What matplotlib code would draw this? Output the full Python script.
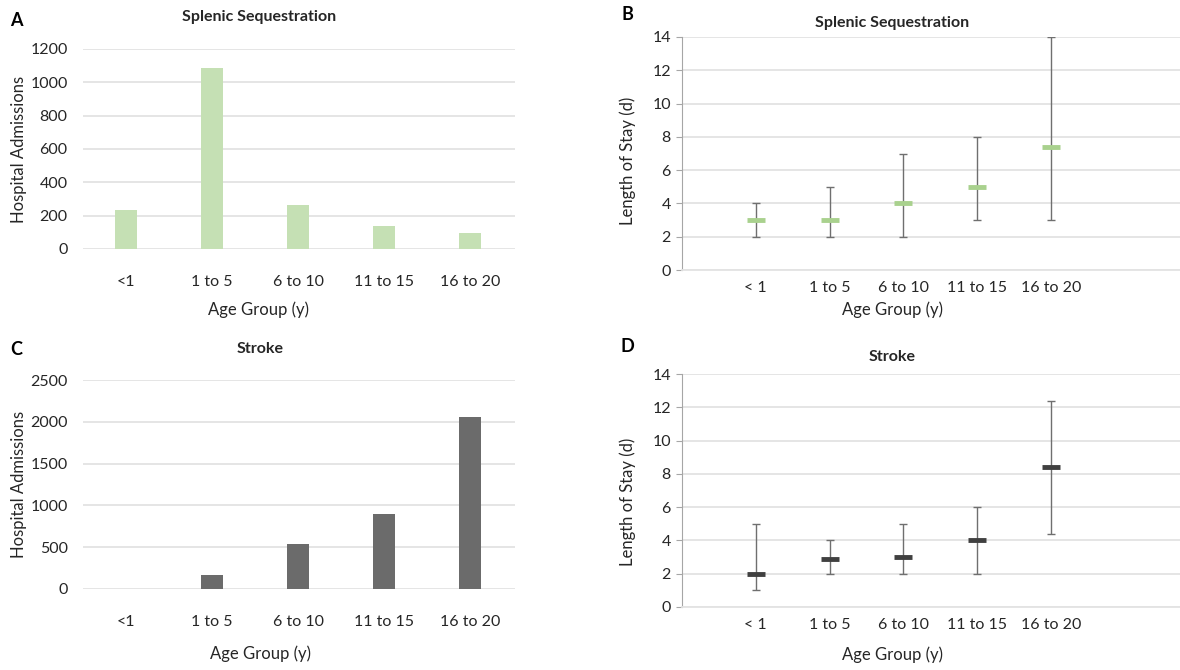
import matplotlib as mpl
import matplotlib.pyplot as plt
import numpy as np

mpl.use('Agg')
plt.rcParams['font.family'] = ['Lato', 'DejaVu Sans']

# data
age_groups_bar = ['<1', '1 to 5', '6 to 10', '11 to 15', '16 to 20']
age_groups_los = ['< 1', '1 to 5', '6 to 10', '11 to 15', '16 to 20']

splenic_admissions = [236, 1086, 264, 138, 98]
stroke_admissions = [0, 167, 535, 893, 2057]

splenic_los_median = [3, 3, 4, 5, 7.4]
splenic_los_low = [2, 2, 2, 3, 3]
splenic_los_high = [4, 5, 7, 8, 14]

stroke_los_median = [2, 2.9, 3, 4, 8.4]
stroke_los_low = [1, 2, 2, 2, 4.4]
stroke_los_high = [5, 4, 5, 6, 12.4]

W, H = 1180, 670
GRID = '#e3e3e3'
TEXT = '#262626'


def px_axes(fig, x0, y0, x1, y1):
    # pixel box (top-left origin) -> figure axes
    return fig.add_axes([x0 / W, 1 - y1 / H, (x1 - x0) / W, (y1 - y0) / H])


def ftext(fig, x, y, s, color=TEXT, **kw):
    fig.text(x / W, 1 - y / H, s, ha='center', va='center', color=color, **kw)


def bar_panel(ax, values, color, ymax, step):
    x = np.arange(len(values))
    ax.bar(x, values, width=0.26, color=color, zorder=3)
    ax.set_xlim(-0.5, 4.52)
    ax.set_ylim(0, ymax)
    ax.set_yticks(np.arange(0, ymax + 1, step))
    ax.set_xticks(x)
    ax.set_xticklabels(age_groups_bar)
    ax.grid(axis='y', color=GRID, lw=1.3, zorder=0)
    for s in ax.spines.values():
        s.set_visible(False)
    ax.tick_params(axis='both', length=0, labelsize=11.5, colors=TEXT)
    ax.tick_params(axis='x', pad=19)
    ax.tick_params(axis='y', pad=11)


def los_panel(ax, med, low, high, mcolor):
    x = np.arange(len(med))
    med = np.array(med)
    yerr = [med - np.array(low), np.array(high) - med]
    ax.errorbar(x, med, yerr=yerr, fmt='none', ecolor='#6f6f6f',
                elinewidth=1, capsize=3, capthick=1, zorder=3)
    ax.plot(x, med, ls='none', marker='_', ms=12.5, mew=3.5,
            color=mcolor, zorder=4)
    ax.set_xlim(-1.0, 5.75)
    ax.set_ylim(0, 14)
    ax.set_yticks(np.arange(0, 15, 2))
    ax.set_xticks(x)
    ax.set_xticklabels(age_groups_los)
    ax.grid(axis='y', color=GRID, lw=1.3, zorder=0)
    for k in ['top', 'right']:
        ax.spines[k].set_visible(False)
    ax.spines['left'].set_color('#a6a6a6')
    ax.spines['bottom'].set_color(GRID)
    ax.spines['bottom'].set_linewidth(1.3)
    ax.tick_params(axis='both', labelsize=11.5, colors=TEXT)
    ax.tick_params(axis='x', length=0, pad=8)
    ax.tick_params(axis='y', length=4, color='#a6a6a6', pad=4)


fig = plt.figure(figsize=(W / 100, H / 100), dpi=100)

# A
axA = px_axes(fig, 83, 49, 515, 249)
bar_panel(axA, splenic_admissions, '#c5e0b4', 1200, 200)
# C
axC = px_axes(fig, 83, 380, 515, 589)
bar_panel(axC, stroke_admissions, '#6b6b6b', 2500, 500)
# B
axB = px_axes(fig, 682, 37, 1180, 270)
los_panel(axB, splenic_los_median, splenic_los_low, splenic_los_high, '#a9d18e')
# D
axD = px_axes(fig, 682, 374, 1180, 607)
los_panel(axD, stroke_los_median, stroke_los_low, stroke_los_high, '#404040')

# titles, labels, panel letters
ftext(fig, 259, 17, 'Splenic Sequestration', fontsize=11.5, fontweight='bold')
ftext(fig, 892, 23, 'Splenic Sequestration', fontsize=11.5, fontweight='bold')
ftext(fig, 260, 349, 'Stroke', fontsize=11.5, fontweight='bold')
ftext(fig, 892, 357, 'Stroke', fontsize=11.5, fontweight='bold')

for x, y in [(258, 310), (892, 310), (260, 654), (892, 655)]:
    ftext(fig, x, y, 'Age Group (y)', fontsize=12)
for x, y in [(19, 149), (19, 484)]:
    ftext(fig, x, y, 'Hospital Admissions', fontsize=12, rotation=90)
for x, y in [(628, 161), (628, 502)]:
    ftext(fig, x, y, 'Length of Stay (d)', fontsize=12, rotation=90)

for x, y, s in [(16, 20, 'A'), (627, 15, 'B'), (16, 350, 'C'), (627, 347, 'D')]:
    ftext(fig, x, y, s, color='black', fontsize=13, fontweight='bold')

fig.savefig('out.png', dpi=100)
